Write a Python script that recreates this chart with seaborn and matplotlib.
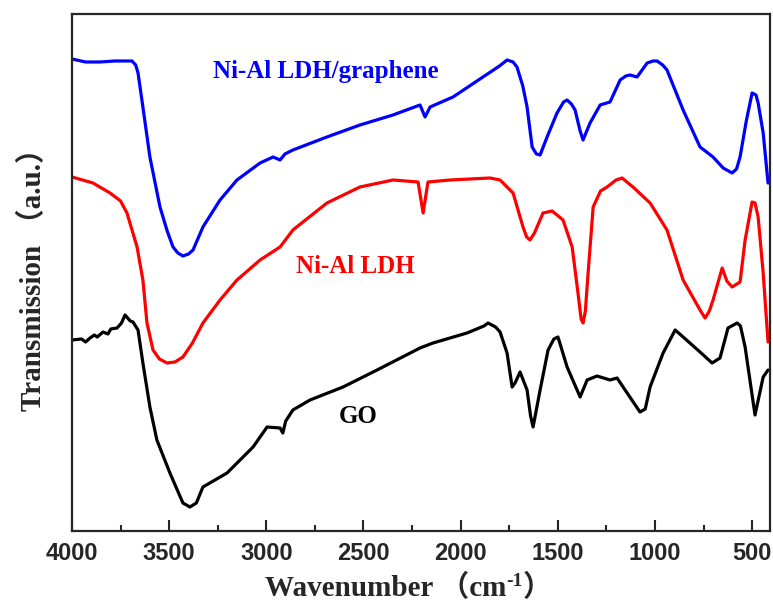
import matplotlib
matplotlib.use("Agg")
import matplotlib.pyplot as plt
from matplotlib.ticker import MultipleLocator
import pandas as pd
import seaborn as sns

# -------------------- DATA --------------------
wn_ldh_g = [4000, 3930, 3856, 3780, 3691, 3672, 3660, 3635, 3599, 3547, 3510, 3480,
            3455, 3429, 3400, 3377, 3326, 3238, 3151, 3032, 2965, 2929, 2904, 2863,
            2688, 2518, 2348, 2209, 2183, 2157, 2039, 1885, 1800, 1761, 1730, 1710,
            1680, 1658, 1632, 1610, 1591, 1555, 1504, 1470, 1452, 1430, 1411, 1385,
            1370, 1334, 1282, 1231, 1179, 1150, 1128, 1092, 1040, 1010, 989, 960,
            938, 855, 768, 701, 649, 603, 580, 562, 530, 500, 480, 469, 443, 418]
tr_ldh_g = [472, 469, 469, 470, 470, 466, 458, 424, 374, 324, 300, 284,
            278, 275, 277, 281, 304, 331, 351, 368, 374, 371, 377, 381,
            394, 406, 416, 426, 414, 424, 434, 454, 465, 471, 469, 464,
            445, 424, 384, 377, 376, 394, 418, 429, 431, 427, 421, 400,
            391, 408, 426, 429, 451, 455, 456, 454, 468, 470, 470, 466,
            461, 421, 384, 374, 363, 358, 362, 374, 410, 438, 436, 428, 398, 348]

wn_ldh = [4000, 3892, 3804, 3750, 3717, 3665, 3635, 3614, 3583, 3550, 3511, 3470,
          3429, 3380, 3326, 3238, 3151, 3032, 2929, 2863, 2688, 2518, 2348, 2219,
          2193, 2168, 2054, 1849, 1797, 1730, 1679, 1660, 1643, 1620, 1576, 1529,
          1473, 1426, 1396, 1380, 1370, 1358, 1344, 1318, 1280, 1246, 1200, 1169,
          1113, 1025, 938, 855, 768, 742, 720, 701, 654, 630, 603, 562, 536,
          500, 485, 469, 443, 418]
tr_ldh = [354, 348, 338, 330, 318, 284, 251, 208, 181, 172, 168, 169,
          174, 188, 208, 231, 251, 271, 284, 301, 328, 344, 351, 349,
          318, 349, 351, 353, 351, 338, 304, 294, 291, 298, 318, 320,
          311, 284, 238, 212, 208, 220, 258, 324, 340, 344, 351, 353,
          344, 328, 301, 251, 221, 213, 220, 231, 263, 250, 244, 249, 291,
          329, 328, 314, 258, 189]

wn_go = [4000, 3950, 3930, 3907, 3885, 3870, 3840, 3815, 3800, 3768, 3745, 3727,
         3700, 3686, 3660, 3635, 3599, 3563, 3496, 3429, 3393, 3360, 3326, 3202,
         3068, 2996, 2929, 2915, 2900, 2863, 2775, 2605, 2430, 2209, 2142, 1967,
         1880, 1859, 1820, 1797, 1761, 1735, 1720, 1694, 1658, 1640, 1627, 1591,
         1550, 1520, 1499, 1452, 1385, 1349, 1298, 1231, 1195, 1143, 1077, 1050,
         1025, 958, 896, 855, 768, 706, 665, 624, 577, 560, 536, 485, 443, 418]
tr_go = [191, 192, 189, 193, 196, 194, 199, 197, 202, 203, 208, 216,
         210, 209, 201, 168, 124, 91, 58, 28, 24, 28, 44, 58,
         84, 104, 103, 98, 110, 121, 131, 144, 161, 183, 188, 198,
         205, 208, 204, 199, 178, 144, 148, 159, 141, 115, 104, 141,
         181, 192, 194, 164, 134, 151, 155, 151, 153, 138, 119, 122,
         144, 178, 201, 194, 179, 168, 173, 203, 208, 205, 184, 116, 154, 161]

samples = ["Ni-Al LDH/graphene", "Ni-Al LDH", "GO"]
colors = {"Ni-Al LDH/graphene": "#0000ff", "Ni-Al LDH": "#ff0000", "GO": "#000000"}

df = pd.concat([
    pd.DataFrame({"wn": wn_ldh_g, "tr": tr_ldh_g, "sample": samples[0]}),
    pd.DataFrame({"wn": wn_ldh, "tr": tr_ldh, "sample": samples[1]}),
    pd.DataFrame({"wn": wn_go, "tr": tr_go, "sample": samples[2]}),
], ignore_index=True)

# -------------------- STYLE --------------------
sns.set_style("ticks")
serif = ["Liberation Serif", "Noto Sans CJK SC"]
plt.rcParams["font.family"] = serif

# -------------------- PLOT --------------------
fig = plt.figure(figsize=(7.73, 6.03), dpi=100)
ax = fig.add_axes([0.0931, 0.1194, 0.9030, 0.8574])

sns.lineplot(data=df, x="wn", y="tr", hue="sample", palette=colors,
             estimator=None, sort=False, legend=False, linewidth=2.3, ax=ax)

ax.set_xlim(4000, 408)
ax.set_ylim(0, 517)
ax.xaxis.set_major_locator(MultipleLocator(500))
ax.xaxis.set_minor_locator(MultipleLocator(250))
ax.set_yticks([])
ax.tick_params(axis="x", which="major", direction="in", length=8, width=1.5,
               top=False, pad=8)
ax.tick_params(axis="x", which="minor", direction="in", length=4, width=1.5, top=False)
for lab in ax.get_xticklabels():
    lab.set_family(["Liberation Sans Narrow", "Liberation Sans"])
    lab.set_fontweight("bold")
    lab.set_fontsize(17)
for sp in ax.spines.values():
    sp.set_linewidth(1.6)
    sp.set_visible(True)

ax.set_xlabel("")
ax.set_ylabel("Transmission \uff08a.u.\uff09", family=serif, fontweight="bold",
              fontsize=21, labelpad=18)

# x label in pieces so the full-width brackets and the superscript both render
fig.canvas.draw()
renderer = fig.canvas.get_renderer()
pieces = [("Wavenumber \uff08cm", 21, 0.0), ("-1", 14, 0.017), ("\uff09", 21, 0.0)]
base_y = 0.012
texts = [fig.text(0, base_y + dy, s, fontsize=fs, fontweight="bold", family=serif,
                  va="baseline", ha="left") for s, fs, dy in pieces]
widths = [t.get_window_extent(renderer).width / fig.bbox.width for t in texts]
x = 0.528 - sum(widths) / 2
for t, w in zip(texts, widths):
    t.set_x(x)
    x += w

ax.text(2693, 459, "Ni-Al LDH/graphene", color="#0000ff", family=serif,
        fontweight="bold", fontsize=18, ha="center", va="center")
ax.text(2543, 264, "Ni-Al LDH", color="#ff0000", family=serif,
        fontweight="bold", fontsize=18, ha="center", va="center")
ax.text(2528, 114, "GO", color="#000000", family=serif,
        fontweight="bold", fontsize=18, ha="center", va="center")

fig.savefig("out.png", dpi=100)
